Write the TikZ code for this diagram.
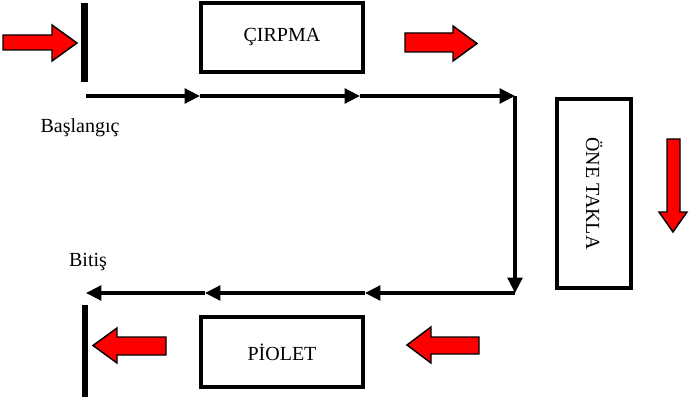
\documentclass[tikz,border=0pt]{standalone}
\usepackage{fontspec}
\setmainfont{Liberation Serif}
\usetikzlibrary{arrows.meta}
\tikzset{
  flow/.style={line width=2.5pt,-{Triangle[length=11.5pt,width=11pt]}},
  movebox/.style={draw,line width=3pt,inner sep=0pt,font=\fontsize{15}{18}\selectfont},
  steptext/.style={font=\fontsize{15}{18}\selectfont,inner sep=0pt},
  bar/.style={line width=4.8pt},
  redarrow/.style={fill=red,draw=black,line width=1.1pt,line join=miter}
}
\begin{document}
\begin{tikzpicture}[x=0.75pt,y=-0.75pt]
\useasboundingbox (0,0) rectangle (690,403);
%\draw [help lines, color=lightgray] (0,0) grid[step=50] (690,403);
\coordinate (start) at (86,96);
\coordinate (t1) at (200,96);
\coordinate (t2) at (360,96);
\coordinate (corner1) at (515,96);
\coordinate (corner2) at (515,293);
\coordinate (b1) at (365,293);
\coordinate (b2) at (205,293);
\coordinate (finish) at (86,293);
\draw [flow] (start) -- (t1);
\draw [flow] (t1) -- (t2);
\draw [flow] (t2) -- (corner1);
\draw [flow] (corner1) -- (corner2);
\draw [flow] (corner2) -- (b1);
\draw [flow] (b1) -- (b2);
\draw [flow] (b2) -- (finish);

\node [movebox,minimum width=121.5pt,minimum height=51.75pt] (cirpma) at (282,37.5) {ÇIRPMA};
\node [movebox,minimum width=121.5pt,minimum height=52.5pt] (piolet) at (282,352) {PİOLET};
\node [movebox,rotate=-90,minimum width=141.75pt,minimum height=55.5pt] (takla) at (594,193.5) {ÖNE TAKLA};

\node [steptext] (baslangic) at (80,128) {Başlangıç};
\node [steptext] (bitis) at (88,262) {Bitiş};

\draw [bar] (84.5,3) -- (84.5,82);
\draw [bar] (85,305) -- (85,397);

\draw [redarrow] (3,35) -- (52,35) -- (52,25) -- (77,43) -- (52,61) -- (52,50) -- (3,50) -- cycle;
\draw [redarrow] (405,33) -- (453,33) -- (453,26) -- (477,43.5) -- (453,61) -- (453,52) -- (405,52) -- cycle;
\draw [redarrow] (667,139) -- (680,139) -- (680,212) -- (687,212) -- (673,232) -- (659,212) -- (667,212) -- cycle;
\draw [redarrow] (479,337) -- (431,337) -- (431,327) -- (407,345) -- (431,363) -- (431,354) -- (479,354) -- cycle;
\draw [redarrow] (166,337) -- (117,337) -- (117,328) -- (93,345.5) -- (117,363) -- (117,355) -- (166,355) -- cycle;

\end{tikzpicture}
\end{document}
